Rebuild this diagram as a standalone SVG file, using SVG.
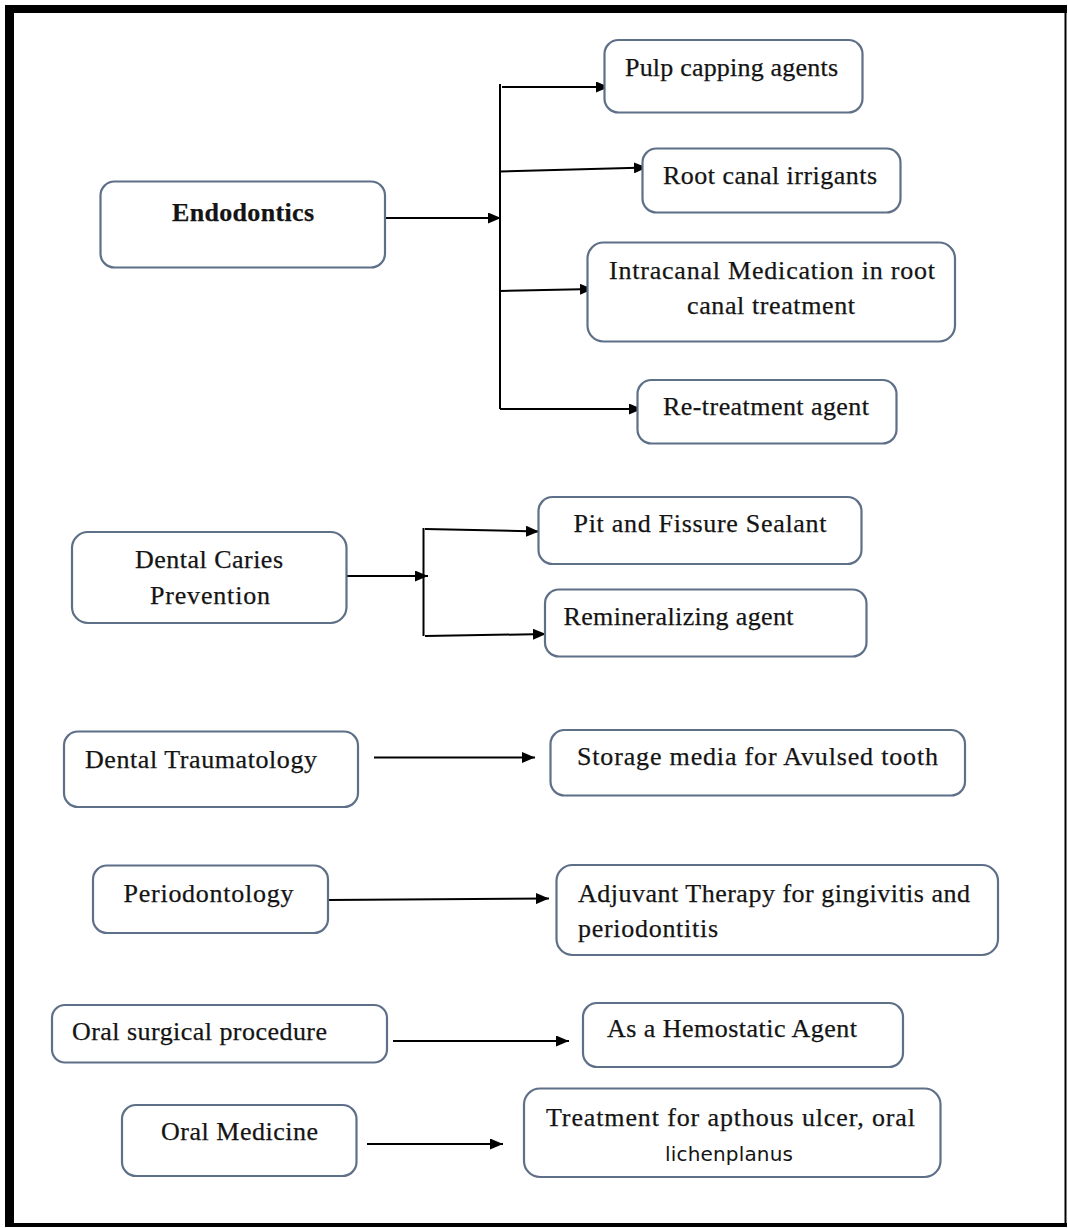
<svg xmlns="http://www.w3.org/2000/svg" width="1068" height="1228" viewBox="0 0 1068 1228">
<style>
.box{fill:#fff;stroke:#5e6f88;stroke-width:2.2}
.t{font-family:"Liberation Serif","Times New Roman",serif;font-size:26px;fill:#141414;stroke:#141414;stroke-width:0.25}
.b{font-weight:bold}
.s{font-family:"DejaVu Sans","Noto Sans",sans-serif;font-size:20px;fill:#141414}
.c{stroke:#000;stroke-width:2;fill:none}
.a{marker-end:url(#ah)}
</style>
<defs>
<marker id="ah" markerUnits="userSpaceOnUse" markerWidth="13" markerHeight="11" refX="13" refY="5.5" orient="auto">
<path d="M0,0 L13,5.5 L0,11 z" fill="#000"/>
</marker>
</defs>
<rect x="0" y="0" width="1068" height="1228" fill="#fff"/>
<g id="frame" fill="#000">
<rect x="5" y="5" width="1062" height="8"/>
<rect x="5" y="5" width="9" height="1222"/>
<rect x="1064.5" y="5" width="2" height="1222"/>
<rect x="5" y="1223" width="1062" height="4"/>
</g>
<g id="connectors">
<line class="c" x1="500" y1="84" x2="500" y2="409"/>
<line class="c a" x1="385" y1="218" x2="501" y2="218"/>
<line class="c a" x1="502" y1="87" x2="609" y2="87"/>
<line class="c a" x1="500" y1="171.5" x2="647" y2="167.5"/>
<line class="c a" x1="500" y1="291" x2="593" y2="289"/>
<line class="c a" x1="500" y1="409" x2="642" y2="409"/>
<line class="c" x1="423.5" y1="528" x2="423.5" y2="636"/>
<line class="c a" x1="347" y1="576" x2="428" y2="576"/>
<line class="c a" x1="425" y1="529" x2="539" y2="531.5"/>
<line class="c a" x1="425" y1="636" x2="546" y2="634"/>
<line class="c a" x1="374" y1="757.5" x2="535" y2="757.5"/>
<line class="c a" x1="328" y1="900" x2="549" y2="898.5"/>
<line class="c a" x1="393" y1="1041" x2="569" y2="1041"/>
<line class="c a" x1="367" y1="1144" x2="503" y2="1144"/>
</g>
<g id="endodontics">
<rect class="box" x="100.5" y="181.5" width="284.5" height="86" rx="14"/>
<text class="t b" x="172" y="221" textLength="142" lengthAdjust="spacing">Endodontics</text>
</g>
<g id="pulp-capping">
<rect class="box" x="604.5" y="40" width="258" height="72.5" rx="14"/>
<text class="t" x="625" y="75.5" textLength="213" lengthAdjust="spacing">Pulp capping agents</text>
</g>
<g id="root-canal-irrigants">
<rect class="box" x="642.5" y="148.5" width="258" height="64" rx="14"/>
<text class="t" x="663" y="183.5" textLength="214" lengthAdjust="spacing">Root canal irrigants</text>
</g>
<g id="intracanal">
<rect class="box" x="587.5" y="242.5" width="367.5" height="99" rx="16"/>
<text class="t" x="609" y="278.5" textLength="326" lengthAdjust="spacing">Intracanal Medication in root</text>
<text class="t" x="687" y="314" textLength="168" lengthAdjust="spacing">canal treatment</text>
</g>
<g id="re-treatment">
<rect class="box" x="637.5" y="380" width="259" height="63.5" rx="14"/>
<text class="t" x="663" y="415" textLength="206" lengthAdjust="spacing">Re-treatment agent</text>
</g>
<g id="caries">
<rect class="box" x="72" y="532" width="274.5" height="91" rx="16"/>
<text class="t" x="135" y="567.5" textLength="148" lengthAdjust="spacing">Dental Caries</text>
<text class="t" x="150" y="603.5" textLength="120" lengthAdjust="spacing">Prevention</text>
</g>
<g id="pit-fissure">
<rect class="box" x="538.5" y="497" width="323" height="67" rx="14"/>
<text class="t" x="573.5" y="531.5" textLength="253" lengthAdjust="spacing">Pit and Fissure Sealant</text>
</g>
<g id="remineralizing">
<rect class="box" x="545" y="589.5" width="321.5" height="67" rx="14"/>
<text class="t" x="563.5" y="625" textLength="230" lengthAdjust="spacing">Remineralizing agent</text>
</g>
<g id="traumatology">
<rect class="box" x="64" y="731.5" width="294" height="75.5" rx="14"/>
<text class="t" x="85" y="768" textLength="232" lengthAdjust="spacing">Dental Traumatology</text>
</g>
<g id="storage-media">
<rect class="box" x="550.5" y="730" width="414.5" height="65.5" rx="14"/>
<text class="t" x="577" y="765" textLength="361" lengthAdjust="spacing">Storage media for Avulsed tooth</text>
</g>
<g id="periodontology">
<rect class="box" x="93" y="865.5" width="235" height="67.5" rx="14"/>
<text class="t" x="123.5" y="901.5" textLength="170" lengthAdjust="spacing">Periodontology</text>
</g>
<g id="adjuvant">
<rect class="box" x="556.5" y="865" width="441.5" height="90" rx="16"/>
<text class="t" x="578" y="901.5" textLength="392" lengthAdjust="spacing">Adjuvant Therapy for gingivitis and</text>
<text class="t" x="578" y="936.5" textLength="140" lengthAdjust="spacing">periodontitis</text>
</g>
<g id="oral-surgical">
<rect class="box" x="52" y="1005" width="335" height="57.5" rx="13"/>
<text class="t" x="72" y="1040" textLength="255" lengthAdjust="spacing">Oral surgical procedure</text>
</g>
<g id="hemostatic">
<rect class="box" x="583" y="1003" width="320" height="64" rx="14"/>
<text class="t" x="607" y="1036.5" textLength="250" lengthAdjust="spacing">As a Hemostatic Agent</text>
</g>
<g id="oral-medicine">
<rect class="box" x="122" y="1105" width="234.5" height="71" rx="14"/>
<text class="t" x="161" y="1139.5" textLength="157" lengthAdjust="spacing">Oral Medicine</text>
</g>
<g id="treatment">
<rect class="box" x="524" y="1088.5" width="416.5" height="88.5" rx="16"/>
<text class="t" x="546" y="1125.5" textLength="369" lengthAdjust="spacing">Treatment for apthous ulcer, oral</text>
<text class="s" x="665" y="1161" textLength="128" lengthAdjust="spacing">lichenplanus</text>
</g>
</svg>
